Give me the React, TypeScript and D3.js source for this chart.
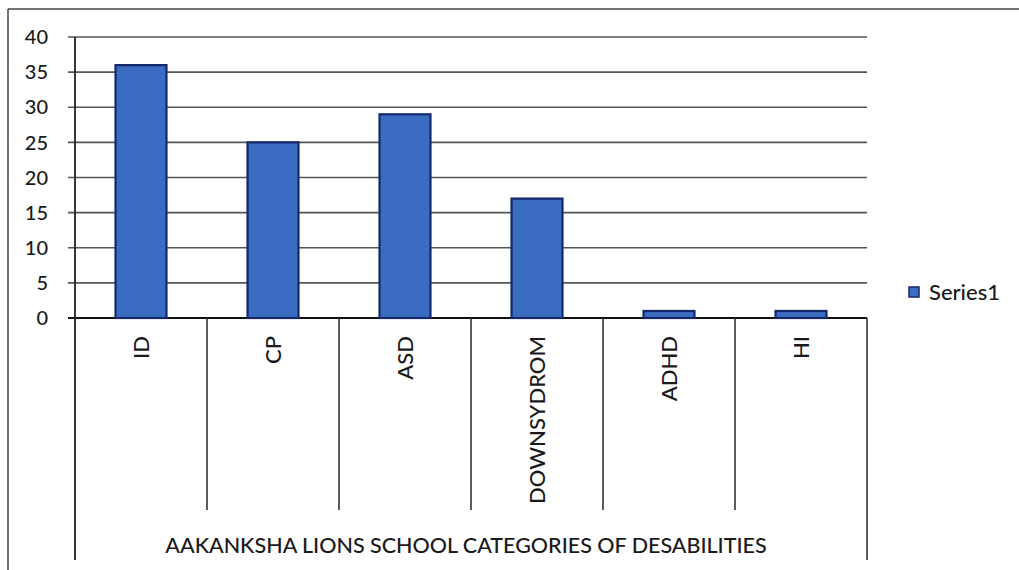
import React from "react";
import * as d3 from "d3";

const categories: string[] = ["ID", "CP", "ASD", "DOWNSYDROM", "ADHD", "HI"];
const series1: number[] = [36, 25, 29, 17, 1, 1];
const yTicks: number[] = [0, 5, 10, 15, 20, 25, 30, 35, 40];
const seriesName = "Series1";
const axisTitle = "AAKANKSHA LIONS SCHOOL CATEGORIES OF DESABILITIES";

const W = 1019;
const H = 570;
const left = 75;
const right = 867;
const top = 37;
const bottom = 318;
const FONT = "Lato, 'Open Sans', 'Liberation Sans', sans-serif";

export default function App() {
  const x = d3.scaleBand<string>().domain(categories).range([left, right]).paddingInner(0.614).paddingOuter(0.307);
  const xOuter = d3.scaleBand<string>().domain(categories).range([left, right]).padding(0);
  const y = d3.scaleLinear().domain([0, 40]).range([bottom, top]);
  const data = categories.map((c, i) => ({ c, v: series1[i] }));

  return (
    <svg width={W} height={H} style={{ position: "absolute", left: 0, top: 0, background: "#fff" }} fontFamily={FONT}>
      {/* frame */}
      <line x1={8} x2={W} y1={9} y2={9} stroke="#444" strokeWidth={1.5} />
      <line x1={8} x2={8} y1={9} y2={H} stroke="#444" strokeWidth={1.5} />
      {/* gridlines + ticks */}
      {yTicks.map((t) => (
        <g key={t}>
          <line x1={68} x2={right} y1={y(t)} y2={y(t)} stroke={t === 0 ? "#111" : "#555"} strokeWidth={t === 0 ? 1.8 : 1.6} />
          <text x={48} y={y(t)} dy="0.36em" textAnchor="end" fontSize={20} fontWeight={500} fill="#1a1a1a">{t}</text>
        </g>
      ))}
      {/* bars */}
      {data.map((d) => (
        <rect key={d.c} x={x(d.c)!} y={y(d.v)} width={x.bandwidth()} height={bottom - y(d.v)}
          fill="#3a6cc2" stroke="#14286a" strokeWidth={2.2} />
      ))}
      {/* y axis */}
      <line x1={left} x2={left} y1={top} y2={560} stroke="#222" strokeWidth={1.8} />
      {/* category dividers */}
      {categories.slice(1).map((c) => (
        <line key={c} x1={xOuter(c)!} x2={xOuter(c)!} y1={bottom} y2={510} stroke="#333" strokeWidth={1.6} />
      ))}
      <line x1={right} x2={right} y1={bottom} y2={560} stroke="#333" strokeWidth={1.6} />
      {/* category labels */}
      {categories.map((c) => {
        const cx = xOuter(c)! + xOuter.bandwidth() / 2;
        return (
          <text key={c} transform={`translate(${cx},${336}) rotate(-90)`} textAnchor="end" dy="0.36em" fontSize={22} fontWeight={500} fill="#1a1a1a">{c}</text>
        );
      })}
      {/* axis title */}
      <text x={(left + right) / 2 - 5} y={553} textAnchor="middle" fontSize={21.5} fontWeight={500} fill="#1a1a1a">{axisTitle}</text>
      {/* legend */}
      <rect x={909} y={287} width={10} height={10} fill="#3a6cc2" stroke="#14286a" strokeWidth={1.5} />
      <text x={929} y={292} dy="0.36em" fontSize={22} fontWeight={500} fill="#1a1a1a">{seriesName}</text>
    </svg>
  );
}
